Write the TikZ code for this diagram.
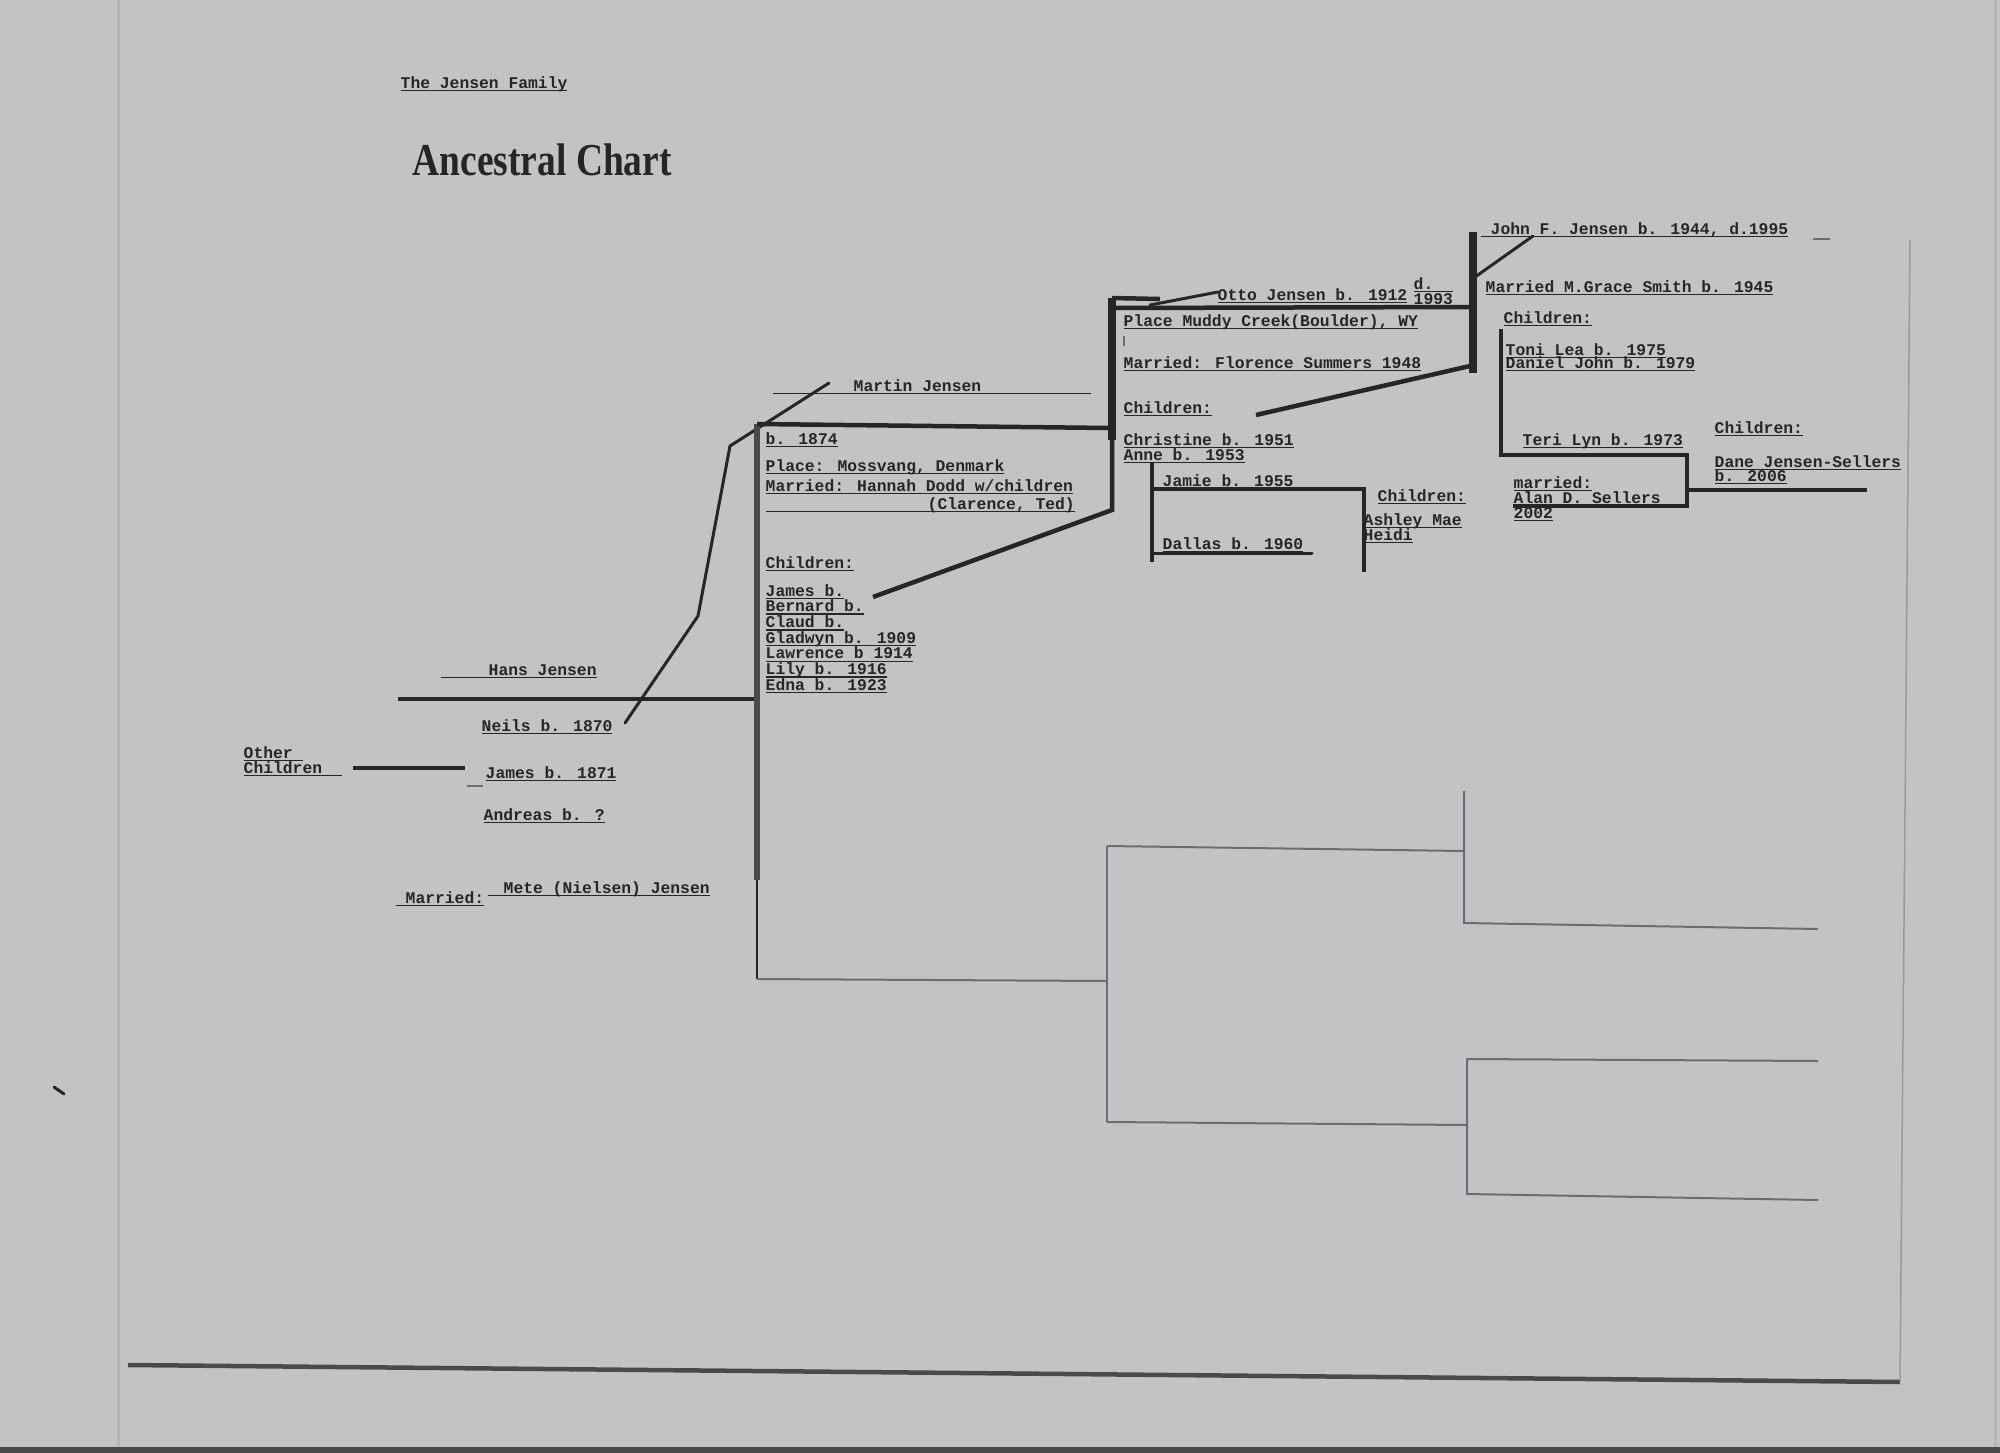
\documentclass[tikz,border=0pt]{standalone}
\usepackage{fontspec}
\usepackage{graphicx}
\usetikzlibrary{positioning}
\newfontfamily\typewriter{Liberation Mono}
\newfontfamily\headserif{Liberation Serif}
\definecolor{paper}{HTML}{C4C2C5}
\definecolor{ink}{HTML}{262626}
\definecolor{inkgray}{HTML}{4A494C}
\definecolor{pencil}{HTML}{6E6C70}
\definecolor{edge}{HTML}{B6B4B7}
\newcommand{\typed}{\typewriter\bfseries\fontsize{4.65pt}{4.46pt}\selectfont}
\newsavebox{\ulbox}
\newcommand{\undl}[1]{\sbox{\ulbox}{#1}\rlap{\rule[-0.9pt]{\wd\ulbox}{0.4pt}}\usebox{\ulbox}}
\tikzset{
  entry/.style={inner sep=0pt,anchor=base west,font=\typed,text=ink},
  ruled/.style={draw=ink,line width=0.45mm},
  boldrule/.style={draw=ink,line width=0.75mm},
  pen/.style={draw=ink,line width=0.3mm,line cap=round},
  faint/.style={draw=pencil,line width=0.2mm}
}
\begin{document}
\begin{tikzpicture}[x=0.1mm,y=-0.1mm]
  % paper
  \fill[paper] (0,0) rectangle (2000,1453);
  \useasboundingbox (0,0) rectangle (2000,1453);
  \draw[edge,line width=0.3mm] (118,0) -- (118,1453);
  \draw[edge,line width=0.3mm] (1995,0) -- (1995,1447);
  \fill[inkgray] (0,1447) rectangle (2000,1453);
  \coordinate (frameL) at (128,1365);
  \coordinate (frameR) at (1900,1382);
  \coordinate (frameT) at (1910,240);
  \draw[draw=inkgray,line width=0.45mm] (frameL) -- (frameR);
  \draw[draw=edge!85!black,line width=0.15mm] (frameR) -- (frameT);
  \coordinate (speck1) at (54,1087);
  \coordinate (speck2) at (64,1094);
  \draw[pen] (speck1) -- (speck2);

  % heading
  \node[entry] (family) at (400,88) {\undl{The Jensen Family}};
  \node[inner sep=0pt,anchor=base west,text=ink] (heading) at (412,175)
    {\scalebox{0.82}[1]{\headserif\bfseries\fontsize{13pt}{15pt}\selectfont Ancestral Chart}};

  % first generation
  \node[entry] (hans) at (440,675) {\undl{\hspace{4.8mm}Hans Jensen}};
  \coordinate (hansL) at (398,699);
  \coordinate (hansR) at (757,699);
  \draw[ruled] (hansL) -- (hansR);
  \node[entry] (neils) at (481,731) {\undl{Neils b. 1870}};
  \node[entry] (other1) at (243,758) {\undl{Other\ }};
  \node[entry] (other2) at (243,773) {\undl{Children\ \ }};
  \coordinate (otherL) at (353,768);
  \coordinate (otherR) at (465,768);
  \draw[ruled] (otherL) -- (otherR);
  \node[entry] (james) at (485,778) {\undl{James b. 1871}};
  \coordinate (dashL) at (467,786);
  \coordinate (dashR) at (483,786);
  \draw[faint] (dashL) -- (dashR);
  \node[entry] (andreas) at (483,820) {\undl{Andreas b. ?}};
  \node[entry] (wed1) at (395,903) {\undl{\hspace{1mm}Married:}};
  \node[entry] (mete) at (487,893) {\undl{\hspace{1.6mm}Mete (Nielsen) Jensen}};
  \coordinate (link1) at (625,723);
  \coordinate (link2) at (698,616);
  \coordinate (link3) at (730,446);
  \coordinate (link4) at (829,383);
  \draw[pen] (link1) -- (link2) -- (link3) -- (link4);

  % second generation
  \node[entry] (martin) at (772,391) {\undl{\hspace{8.1mm}Martin Jensen\hspace{11mm}}};
  \coordinate (mTop) at (757,424);
  \coordinate (mMid) at (757,880);
  \coordinate (mBot) at (757,979);
  \coordinate (mTR) at (1110,428);
  \draw[draw=inkgray,line width=0.55mm] (mTop) -- (mMid);
  \draw[draw=ink,line width=0.25mm] (mMid) -- (mBot);
  \draw[ruled] (mTop) -- (mTR);
  \node[entry] (mborn) at (765,444) {\undl{b. 1874}};
  \node[entry] (mplace) at (765,471) {\undl{Place: Mossvang, Denmark}};
  \node[entry] (mwed) at (765,491) {\undl{Married: Hannah Dodd w/children}};
  \node[entry] (mstep) at (765,509) {\undl{\hspace{16.2mm}(Clarence, Ted)}};
  \node[entry] (mkids) at (765,568) {\undl{Children:}};
  \foreach \kid [count=\k from 0] in {James b.,Bernard b.,Claud b.,Gladwyn b. 1909,
      Lawrence b 1914,Lily b. 1916,Edna b. 1923}
    \node[entry] (mkid\k) at (765,596+15.7*\k) {\undl{\kid}};

  % third generation
  \coordinate (oTop) at (1112,298);
  \coordinate (oMid) at (1112,440);
  \coordinate (oBot) at (1112,510);
  \coordinate (oLink) at (873,597);
  \draw[boldrule] (oTop) -- (oMid);
  \draw[ruled] (oMid) -- (oBot) -- (oLink);
  \coordinate (oStub) at (1160,299);
  \coordinate (oStubB) at (1150,305);
  \coordinate (oKink) at (1218,292);
  \draw[ruled] (oTop) -- (oStub);
  \draw[pen] (oStubB) -- (oKink);
  \coordinate (oL) at (1112,308);
  \coordinate (oR) at (1470,307);
  \draw[ruled] (oL) -- (oR);
  \node[entry] (otto) at (1217,300) {\undl{Otto Jensen b. 1912}};
  \node[entry] (ottod) at (1413,289) {\undl{d.\ \ }};
  \node[entry] (ottodd) at (1413,304) {\undl{1993}};
  \node[entry] (oplace) at (1123,326) {\undl{Place Muddy Creek(Boulder), WY}};
  \coordinate (tick1) at (1124,336);
  \coordinate (tick2) at (1124,346);
  \draw[faint] (tick1) -- (tick2);
  \node[entry] (owed) at (1123,368) {\undl{Married: Florence Summers 1948}};
  \node[entry] (okids) at (1123,413) {\undl{Children:}};
  \node[entry] (chris) at (1123,445) {\undl{Christine b. 1951}};
  \node[entry] (anne) at (1123,460) {\undl{Anne b. 1953}};
  \coordinate (jTop) at (1152,462);
  \coordinate (jBot) at (1152,562);
  \coordinate (jL) at (1152,489);
  \coordinate (jR) at (1364,489);
  \coordinate (jRB) at (1364,572);
  \coordinate (dL) at (1152,553);
  \coordinate (dR) at (1312,553);
  \draw[ruled] (jTop) -- (jBot);
  \draw[ruled] (jL) -- (jR) -- (jRB);
  \draw[pen] (dL) -- (dR);
  \node[entry] (jamie) at (1162,486) {\undl{Jamie b. 1955}};
  \node[entry] (dallas) at (1162,549) {\undl{Dallas b. 1960}};
  \node[entry] (jkids) at (1377,501) {\undl{Children:}};
  \node[entry] (ashley) at (1363,525) {\undl{Ashley Mae}};
  \node[entry] (heidi) at (1363,540) {\undl{Heidi}};
  \coordinate (jfTop) at (1473,232);
  \coordinate (jfBot) at (1473,373);
  \coordinate (kLink1) at (1470,366);
  \coordinate (kLink2) at (1256,415);
  \draw[boldrule] (jfTop) -- (jfBot);
  \draw[ruled] (kLink1) -- (kLink2);

  % fourth generation
  \node[entry] (john) at (1480,234) {\undl{\hspace{1mm}John F. Jensen b. 1944, d.1995}};
  \coordinate (jdashL) at (1813,239);
  \coordinate (jdashR) at (1830,239);
  \draw[faint] (jdashL) -- (jdashR);
  \coordinate (jLink1) at (1533,236);
  \coordinate (jLink2) at (1475,277);
  \draw[pen] (jLink1) -- (jLink2);
  \node[entry] (grace) at (1485,292) {\undl{Married M.Grace Smith b. 1945}};
  \node[entry] (gkids) at (1503,323) {\undl{Children:}};
  \node[entry] (toni) at (1505,355) {\undl{Toni Lea b. 1975}};
  \node[entry] (daniel) at (1505,368) {\undl{Daniel John b. 1979}};
  \coordinate (tTop) at (1501,329);
  \coordinate (tCorner) at (1501,455);
  \coordinate (tR) at (1687,455);
  \coordinate (tRB) at (1687,506);
  \coordinate (tLB) at (1513,506);
  \coordinate (tOut) at (1687,490);
  \coordinate (tEnd) at (1867,490);
  \draw[ruled] (tTop) -- (tCorner) -- (tR) -- (tRB) -- (tLB);
  \draw[ruled] (tOut) -- (tEnd);
  \node[entry] (teri) at (1522,445) {\undl{Teri Lyn b. 1973}};
  \node[entry] (twed) at (1513,488) {\undl{married:}};
  \node[entry] (alan) at (1513,503) {\undl{Alan D. Sellers}};
  \node[entry] (twedyr) at (1513,518) {\undl{2002}};
  \node[entry] (tkids) at (1714,433) {\undl{Children:}};
  \node[entry] (dane) at (1714,467) {\undl{Dane Jensen-Sellers}};
  \node[entry] (daneb) at (1714,481) {\undl{b. 2006}};

  % empty branches
  \coordinate (m2R) at (1107,981);
  \coordinate (g2T) at (1107,846);
  \coordinate (g2B) at (1107,1122);
  \coordinate (g2TR) at (1464,851);
  \coordinate (g2BR) at (1467,1125);
  \coordinate (g3aT) at (1464,791);
  \coordinate (g3aB) at (1464,923);
  \coordinate (g3aR) at (1818,929);
  \coordinate (g3bT) at (1467,1059);
  \coordinate (g3bB) at (1467,1194);
  \coordinate (g3bTR) at (1818,1061);
  \coordinate (g3bBR) at (1818,1200);
  \draw[faint] (mBot) -- (m2R);
  \draw[faint] (g2T) -- (g2B);
  \draw[faint] (g2T) -- (g2TR);
  \draw[faint] (g2B) -- (g2BR);
  \draw[faint] (g3aT) -- (g3aB) -- (g3aR);
  \draw[faint] (g3bTR) -- (g3bT) -- (g3bB) -- (g3bBR);
\end{tikzpicture}
\end{document}
